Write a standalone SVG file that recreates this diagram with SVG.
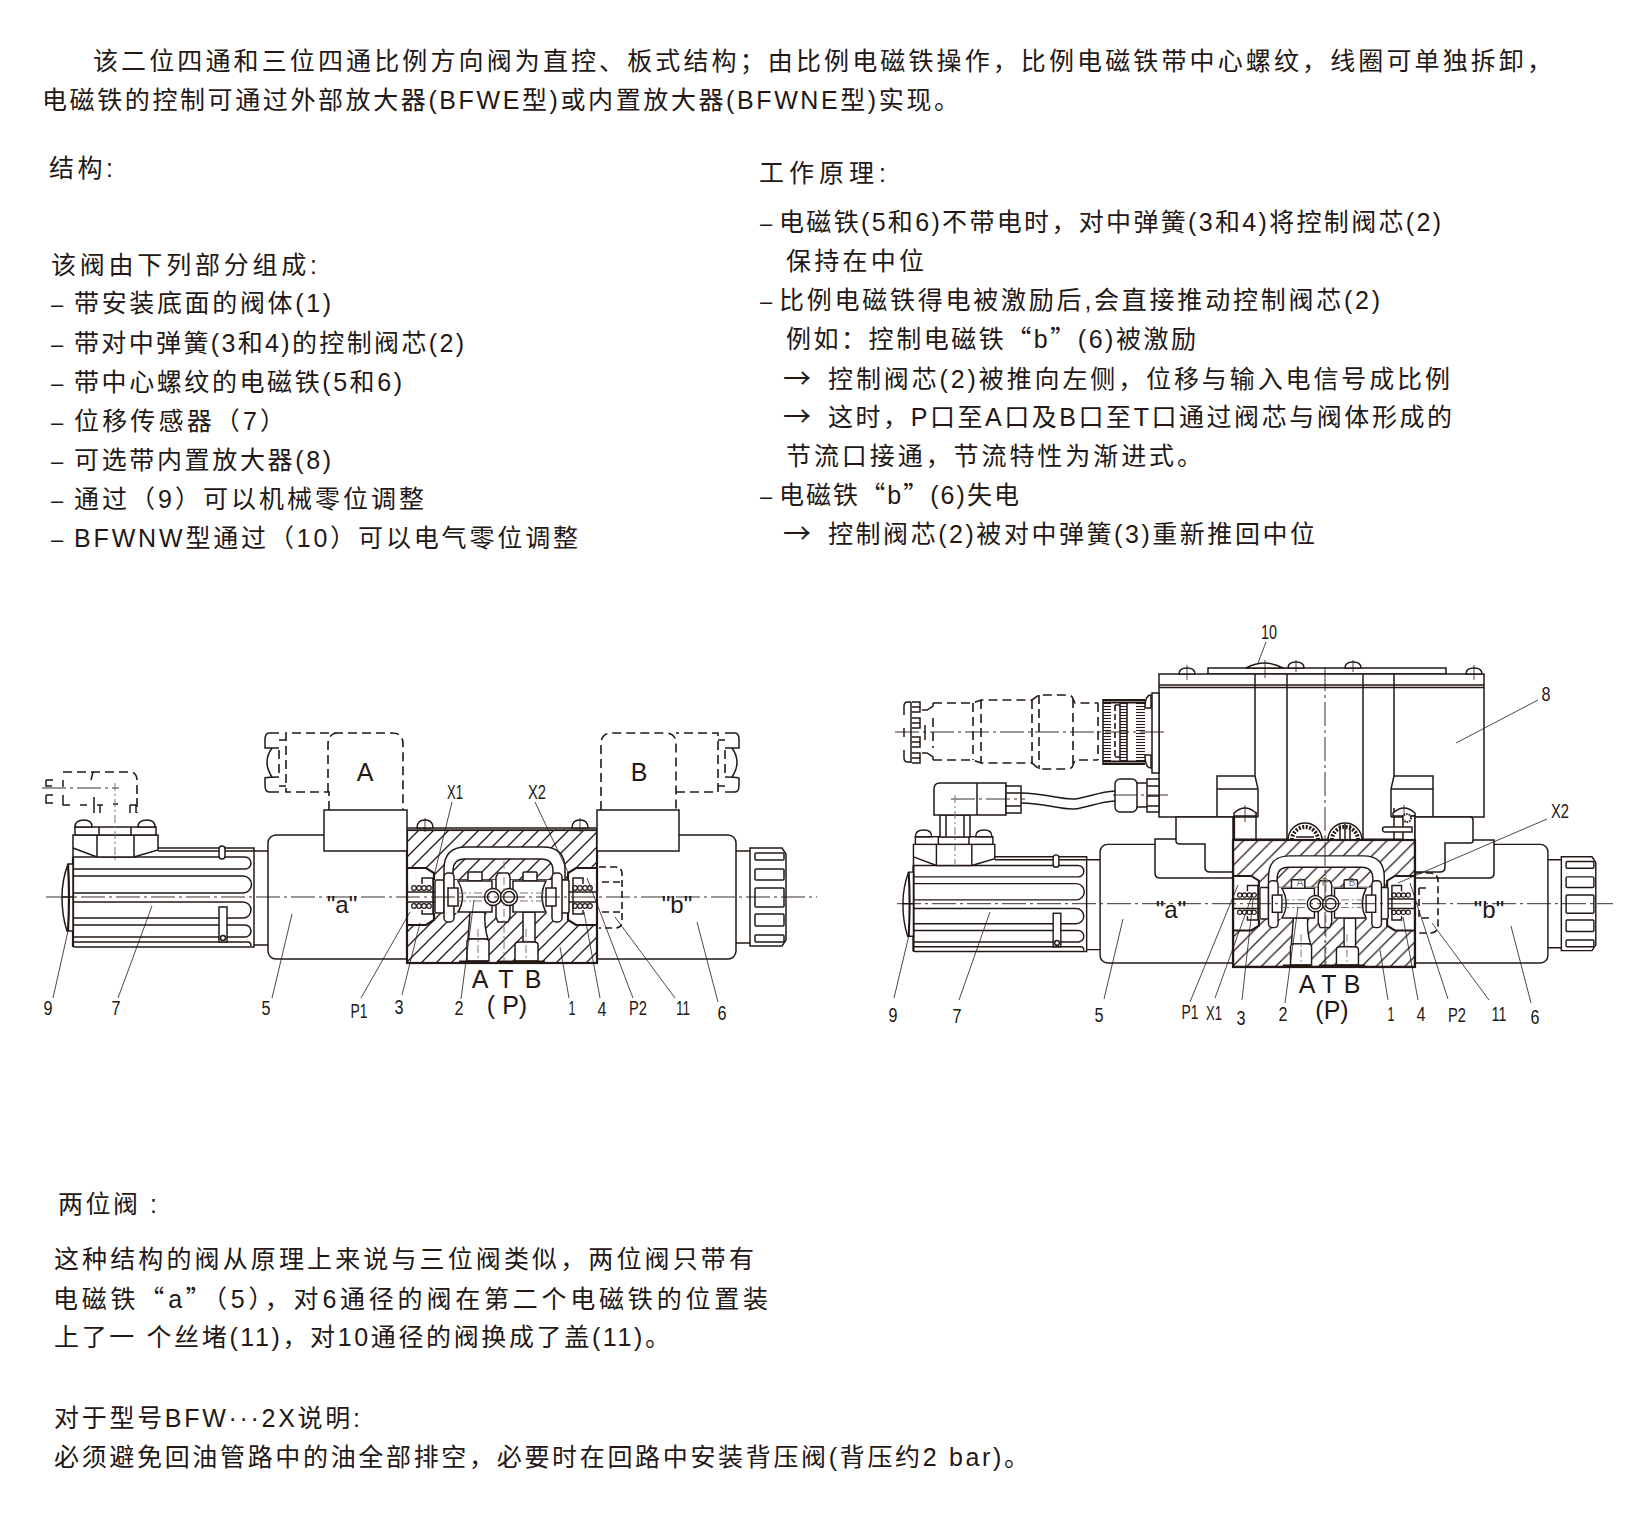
<svg xmlns="http://www.w3.org/2000/svg" xmlns:xlink="http://www.w3.org/1999/xlink" width="1636" height="1517" viewBox="0 0 1636 1517">
<style>
text{font-family:"Liberation Sans","Noto Sans CJK SC",sans-serif;fill:#231815}
.cj{font-family:"Noto Sans CJK SC",sans-serif}
.b{font-size:25px}
.dash{font-size:22px}
.ar{font-size:28px;font-family:"Noto Sans CJK SC",sans-serif}
.n{font-size:20px;text-anchor:middle}
.p{font-size:25px;text-anchor:middle}
.q{font-size:24px;text-anchor:middle}
.l{fill:none;stroke:#231815;stroke-width:1.5}
.k{fill:none;stroke:#231815;stroke-width:2.2}
.w{fill:#fff;stroke:#231815;stroke-width:1.5}
.u{fill:#fff;stroke:none}
.h{fill:url(#hatch);stroke:none}
.s{fill:#231815;stroke:none}
.t{fill:none;stroke:#231815;stroke-width:.8}
.c{fill:none;stroke:#231815;stroke-width:.9;stroke-dasharray:24 4 3 4}
.g{fill:none;stroke:#777;stroke-width:1;stroke-dasharray:8 3 2 3}
.d{fill:none;stroke:#231815;stroke-width:1.6;stroke-dasharray:9 5}
</style>
<defs>
<pattern id="hatch" patternUnits="userSpaceOnUse" width="15" height="15">
<path d="M-3,3 L3,-3 M0,15 L15,0 M12,18 L18,12" fill="none" stroke="#231815" stroke-width="1.3"/>
</pattern>
<pattern id="knurl" patternUnits="userSpaceOnUse" width="4" height="3">
<path d="M0,1.500 H4" fill="none" stroke="#231815" stroke-width="1.1"/>
</pattern>
<path id="cap" class="l" d="M725,733 H735 Q739,733 739,740 V748 Q735,748 725,748 M732,748 Q742,762 732,777 M725,777 Q735,777 739,778 V785 Q739,792 735,792 H725 M718,740 H725 M718,786 H725"/>
<g id="core">
<rect x="-95" y="-67" width="190" height="133" fill="#fff"/>
<rect class="h" x="-95" y="-67" width="190" height="133"/>
<path class="w" d="M-58,-17 V-28 Q-58,-50 -36,-50 H41 Q63,-50 63,-28 V-17 Z"/>
<path d="M-49,-17 V-26 Q-49,-38 -37,-38 H39 Q51,-38 51,-26 V-17 Z" fill="#fff" stroke="#231815" stroke-width="1.5"/>
<path class="h" d="M-49,-17 V-26 Q-49,-38 -37,-38 H39 Q51,-38 51,-26 V-17 Z"/>
<path style="fill:#fff" class="k" d="M-95,-29 H-76 L-68,-24 V23 L-76,28 H-95"/>
<path style="fill:#fff" class="k" d="M95,-29 H74 L66,-24 V23 L74,28 H95"/>
<rect class="u" x="-68" y="-17" width="134" height="33"/>
<path class="l" d="M-95,-5 H-58 M-95,5 H-58 M95,-5 H58 M95,5 H58"/>
<g class="l" style="stroke-width:1.2">
<circle cx="-88" cy="-9" r="2.300"/><circle cx="-83" cy="-9" r="2.300"/><circle cx="-78" cy="-9" r="2.300"/><circle cx="-73" cy="-9" r="2.300"/>
<circle cx="-88" cy="9" r="2.300"/><circle cx="-83" cy="9" r="2.300"/><circle cx="-78" cy="9" r="2.300"/><circle cx="-73" cy="9" r="2.300"/>
<circle cx="73" cy="-9" r="2.300"/><circle cx="78" cy="-9" r="2.300"/><circle cx="83" cy="-9" r="2.300"/><circle cx="88" cy="-9" r="2.300"/>
<circle cx="73" cy="9" r="2.300"/><circle cx="78" cy="9" r="2.300"/><circle cx="83" cy="9" r="2.300"/><circle cx="88" cy="9" r="2.300"/>
</g>
<path class="l" d="M-80,-13 V-19 H-69 V17 H-80 V13 M81,-13 V-19 H71 V17 H81 V13"/>
<rect class="w" x="-67" y="-17" width="9" height="33" rx="1.500"/>
<rect class="w" x="58" y="-17" width="9" height="33" rx="1.500"/>
<rect class="w" x="-58" y="-24" width="10" height="49" rx="4"/>
<rect class="w" x="50" y="-24" width="10" height="49" rx="4"/>
<rect class="w" x="-54" y="-9" width="10" height="18"/>
<rect class="w" x="44" y="-9" width="10" height="18"/>
<rect class="w" x="-34" y="-25" width="14" height="9" rx="1"/>
<rect class="w" x="21" y="-25" width="14" height="9" rx="1"/>
<path class="w" d="M-32,15 L-34,42 H-14 Q-18,30 -17,15 Z"/>
<path class="w" d="M21,15 V45 H33 V15 Z"/>
<path class="w" d="M-35,64 V45 Q-35,42 -31,42 H-17 Q-13,42 -13,45 V64 Z"/>
<path class="w" d="M13,64 V48 Q13,45 17,45 H32 Q36,45 36,48 V64 Z"/>
<path class="w" d="M-44,-16 H-10 V15 H-44 Q-35,0 -44,-16 Z"/>
<path class="w" d="M11,-16 H44 Q36,0 44,15 H11 Z"/>
<path class="w" d="M-6,-20 L-4,-24 H6 L8,-20 V20 L6,25 H-4 L-6,20 Z"/>
<circle class="w" cx="-9" cy="0" r="8.500"/><circle class="l" cx="-9" cy="0" r="5.500"/>
<circle class="w" cx="7" cy="0" r="8.500"/><circle class="l" cx="7" cy="0" r="5.500"/>
<path class="g" d="M-44,-4 H-20 M-44,4 H-20 M18,-4 H44 M18,4 H44 M-24,32 V66 M24,32 V66 M2,-36 V67"/>
<rect class="s" x="-43" y="63.500" width="29" height="2.500"/>
<rect class="s" x="-5" y="63.500" width="18" height="2.500"/>
<rect class="s" x="13" y="63.500" width="30" height="2.500"/>
<rect class="k" x="-95" y="-67" width="190" height="133"/>
</g>
<g id="base">
<g id="transducer">
<path class="l" d="M158,848 H254 V947 H75 Q73,947 73,945 V857"/>
<path class="l" d="M158,851 H254"/>
<path class="l" d="M73,857 H245 a6,6 0 0 1 0,12 H73 M73,876 H243 a8.500,8.500 0 0 1 0,17 H73 M73,902 H243 a8,8 0 0 1 0,16 H73 M73,925 H245 a6,6 0 0 1 0,12 H73 M73,942 H248 Q251,942 251,946"/>
<path d="M73,857 V947" class="k"/>
<rect class="w" x="219" y="846" width="6" height="13" rx="3"/>
<rect class="w" x="219" y="907" width="8" height="35"/>
<circle class="l" cx="223" cy="938" r="2.500"/>
<path class="w" d="M73,864 H68 Q62,880 62,897 Q62,916 67,931 H73 Z"/>
<path class="k" d="M68,864 Q70,897 68,931"/>
<path class="l" d="M62,897 H73"/>
<path class="w" d="M73,857 V835 H158 V850 L134,857 H97 L73,848"/>
<path class="l" d="M97,835 V857 M134,835 V857"/>
<rect class="w" x="75" y="827" width="81" height="8"/>
<path class="l" d="M99,827 V835 M131,827 V835"/>
<path class="w" d="M75,827 Q75,820 84,820 Q92,820 92,827 Z M138,827 Q138,820 147,820 Q155,820 155,827 Z"/>
</g>
<path class="l" d="M254,851 H268 M254,945 H268"/>
<rect class="w" x="268" y="835" width="145" height="124" rx="8"/>
<rect class="w" x="591" y="835" width="145" height="124" rx="8"/>
<path class="l" d="M736,851 H750 M736,943 H750"/>
<path class="w" d="M750,848 H782 L786,854 V940 L782,946 H750 Z"/>
<g class="l">
<rect x="755" y="853" width="29" height="7" rx="1"/>
<rect x="755" y="869" width="29" height="11" rx="1"/>
<rect x="755" y="888" width="29" height="19" rx="1"/>
<rect x="755" y="914" width="29" height="12" rx="1"/>
<rect x="755" y="935" width="29" height="7" rx="1"/>
</g>
<use xlink:href="#core" href="#core" transform="translate(502,897)"/>
</g>
</defs>

<g id="intro">
<text class="b" x="93" y="70" textLength="1459">该二位四通和三位四通比例方向阀为直控、板式结构；由比例电磁铁操作，比例电磁铁带中心螺纹，线圈可单独拆卸，</text>
<text class="b" x="42" y="109" textLength="917">电磁铁的控制可通过外部放大器(BFWE型)或内置放大器(BFWNE型)实现。</text>
</g>
<g id="structure-text">
<text class="b" x="49" y="177" textLength="64">结构:</text>
<text class="b" x="51" y="274" textLength="266">该阀由下列部分组成:</text>
<text class="dash" x="51" y="312">–</text><text class="b" x="74" y="312" textLength="257">带安装底面的阀体(1)</text>
<text class="dash" x="51" y="352">–</text><text class="b" x="74" y="352" textLength="390">带对中弹簧(3和4)的控制阀芯(2)</text>
<text class="dash" x="51" y="391">–</text><text class="b" x="74" y="391" textLength="328">带中心螺纹的电磁铁(5和6)</text>
<text class="dash" x="51" y="430">–</text><text class="b" x="74" y="430" textLength="211">位移传感器（7）</text>
<text class="dash" x="51" y="469">–</text><text class="b" x="74" y="469" textLength="257">可选带内置放大器(8)</text>
<text class="dash" x="51" y="508">–</text><text class="b" x="74" y="508" textLength="350">通过（9）可以机械零位调整</text>
<text class="dash" x="51" y="547">–</text><text class="b" x="74" y="547" textLength="504">BFWNW型通过（10）可以电气零位调整</text>
</g>
<g id="principle-text">
<text class="b" x="759" y="182" textLength="127">工作原理:</text>
<text class="dash" x="760" y="231">–</text><text class="b" x="779" y="231" textLength="662">电磁铁(5和6)不带电时，对中弹簧(3和4)将控制阀芯(2)</text>
<text class="b" x="786" y="270" textLength="138">保持在中位</text>
<text class="dash" x="760" y="309">–</text><text class="b" x="779" y="309" textLength="601">比例电磁铁得电被激励后,会直接推动控制阀芯(2)</text>
<text class="b" x="786" y="348" textLength="410">例如：控制电磁铁<tspan class="cj">“</tspan>b<tspan class="cj">”</tspan>(6)被激励</text>
<text class="ar" x="783" y="389">→</text><text class="b" x="828" y="388" textLength="622">控制阀芯(2)被推向左侧，位移与输入电信号成比例</text>
<text class="ar" x="783" y="427">→</text><text class="b" x="828" y="426" textLength="624">这时，P口至A口及B口至T口通过阀芯与阀体形成的</text>
<text class="b" x="786" y="465" textLength="416">节流口接通，节流特性为渐进式。</text>
<text class="dash" x="760" y="504">–</text><text class="b" x="779" y="504" textLength="240">电磁铁<tspan class="cj">“</tspan>b<tspan class="cj">”</tspan>(6)失电</text>
<text class="ar" x="783" y="544">→</text><text class="b" x="828" y="543" textLength="487">控制阀芯(2)被对中弹簧(3)重新推回中位</text>
</g>
<g id="two-position-text">
<text class="b" x="58" y="1213" textLength="99">两位阀 :</text>
<text class="b" x="54" y="1268" textLength="700">这种结构的阀从原理上来说与三位阀类似，两位阀只带有</text>
<text class="b" x="53" y="1308" textLength="715">电磁铁<tspan class="cj">“</tspan>a<tspan class="cj">”</tspan>（5），对6通径的阀在第二个电磁铁的位置装</text>
<text class="b" x="54" y="1346" textLength="616">上了一 个丝堵(11)，对10通径的阀换成了盖(11)。</text>
<text class="b" x="54" y="1427" textLength="306">对于型号BFW···2X说明:</text>
<text class="b" x="54" y="1466" textLength="975">必须避免回油管路中的油全部排空，必要时在回路中安装背压阀(背压约2 bar)。</text>
</g>

<g id="valve-left">
<use xlink:href="#base" href="#base"/>
<rect class="w" x="407" y="828" width="190" height="2"/>
<path class="w" d="M417,828 Q417,820 425,820 Q433,820 433,828 Z M572,828 Q572,820 580,820 Q588,820 588,828 Z"/>
<path class="t" d="M425,818 V832 M580,818 V832"/>
<rect class="w" x="324" y="810" width="83" height="41"/>
<rect class="w" x="597" y="810" width="82" height="41"/>
<path class="d" d="M329,810 V792 H286 V733 H392 Q403,733 403,744 V810 M328,792 V744 Q328,733 339,733"/>
<path class="d" d="M279,750 V775"/>
<use xlink:href="#cap" href="#cap" transform="matrix(-1 0 0 1 1004 0)"/>
<path class="d" d="M601,810 V744 Q601,733 612,733 H665 Q676,733 676,744 V810 M676,792 H718 V733 H676"/>
<use xlink:href="#cap" href="#cap"/>
<path class="d" d="M725,750 V775"/>
<path class="d" d="M63,772 H130 Q137,772 137,781 V795 M137,798 V813"/>
<path class="l" d="M93,772 L91,780 M63,780 V787 M63,795 V805 H70 M80,805 H87 M94,797 V813 M97,805 H103 M100,805 V813 M113,804 H118 M130,805 H136 M130,805 V813 M136,805 V813"/>
<path class="l" d="M46,780 H53 M46,780 V786 H52 M46,795 H53 M46,795 V803 H53"/>
<path class="c" d="M42,788 H119"/>
<path class="g" d="M115,783 V860"/>
<path class="c" d="M46,897 H817"/>
<path class="d" d="M599,867 H615 Q622,867 622,874 V921 Q622,928 615,928 H599 M602,882 H621 M602,912 H621" style="stroke-dasharray:7 4"/>
<text class="q" x="342" y="913">"a"</text>
<text class="q" x="677" y="913">"b"</text>
<text class="p" x="365" y="781">A</text>
<text class="p" x="639" y="781">B</text>
<text class="p" x="480" y="988">A</text>
<text class="p" x="506" y="988">T</text>
<text class="p" x="533" y="988">B</text>
<text class="p" x="507" y="1014">( P)</text>
</g>

<g id="valve-right">
<use xlink:href="#base" href="#base" transform="translate(1324,903.700) scale(.957) translate(-502,-897)"/>
<rect class="w" x="1208" y="668" width="238" height="6"/>
<path class="w" d="M1246,668 Q1265,658 1283,668 Z"/>
<rect class="u" x="1159" y="674" width="325" height="143"/>
<path class="l" d="M1258,817 H1159 V674 H1484 V817 H1391"/>
<path class="l" d="M1159,685 H1484 M1159,687.500 H1484"/>
<path class="l" d="M1255,674 V776 L1258,789 V817 M1287,674 V840 M1363,674 V840 M1394,674 V776 L1391,789 V817"/>
<path class="l" d="M1217,817 V776 H1255 M1217,789 H1258 M1394,776 H1433 V817 M1391,789 H1433"/>
<path class="w" d="M1179,674 Q1179,668 1187,668 Q1195,668 1195,674 Z M1288,668 Q1288,662 1296,662 Q1304,662 1304,668 Z M1345,668 Q1345,662 1353,662 Q1361,662 1361,668 Z M1466,674 Q1466,668 1474,668 Q1482,668 1482,674 Z"/>
<path class="t" d="M1187,665 V680 M1265,660 V678 M1296,660 V672 M1353,660 V672 M1474,665 V680"/>
<g id="rollers">
<path class="w" d="M1288,840 A17,17 0 0 1 1322,840 Z"/>
<path class="w" d="M1328,840 A17,17 0 0 1 1362,840 Z"/>
<path d="M1292,840 A13,13 0 0 1 1318,840 M1332,840 A13,13 0 0 1 1358,840" fill="none" stroke="#231815" stroke-width="4" stroke-dasharray="2 1.500"/>
<path class="l" d="M1296,837 H1314 M1340,825 V840 M1345,824 V840 M1350,825 V840"/>
</g>
<path class="k" d="M1234,816 V840"/>
<path class="l" d="M1256,812 V840 M1394,808 V840"/>
<path class="w" d="M1234,816 V813 Q1245,803 1256,813 V816 Z M1393,816 V813 Q1404,803 1415,813 V816 Z"/>
<path class="t" d="M1245,805 V822 M1404,805 V822"/>
<rect class="w" x="1403" y="816" width="12" height="24"/>
<circle cx="1407" cy="818" r="4" fill="#fff" stroke="#231815" stroke-width="2" stroke-dasharray="1.500 1"/>
<path class="w" d="M1385,827 H1412 V832 H1385 A2.500,2.500 0 0 1 1385,827 Z"/>
<path class="w" d="M1233,817 H1176 V839 H1155 V873 Q1155,878 1160,878 H1233 Z"/>
<path class="l" d="M1176,839 V841 Q1176,844 1180,844 H1205 V867 Q1205,872 1210,872 H1233"/>
<path class="w" d="M1415,817 H1470 Q1473,817 1473,820 V840 H1494 V873 Q1494,878 1489,878 H1415 Z"/>
<path class="l" d="M1473,840 V841 Q1473,843 1470,843 H1445 V867 Q1445,872 1440,872 H1415"/>
<rect class="k" x="1233" y="840" width="182" height="127"/>
<path class="d" d="M1415,873 H1430 Q1438,873 1438,881 V925 Q1438,933 1430,933 H1415" style="stroke-dasharray:7 4"/>
<path class="d" d="M1419,888 V918 H1429 M1419,888 H1429" style="stroke-dasharray:7 4"/>
<g id="plug-dashed">
<path class="d" d="M933,703 H973 L981,700 H1032 L1039,695 H1068 Q1072,695 1073,699 L1075,703 H1098 M933,760 H973 L981,763 H1032 L1039,769 H1068 Q1072,769 1073,765 L1075,760 H1098"/>
<path class="d" d="M933,718 V748 M973,703 V760 M981,700 V763 M1032,700 V764 M1039,695 V769 M1073,699 V765 M1098,703 V760"/>
<path class="l" d="M922,710 H927 L933,706 V703 M922,753 H927 L933,757 V760"/>
<path class="l" d="M911,702 H908 Q904,702 904,706 V715 M904,728 V737 M904,750 V758 Q904,762 908,762 H911"/>
<path class="l" d="M911,702 V763 M912,702 H920 V712 H912 M912,707 H920 M912,718 H920 V728 H912 M912,723 H920 M912,737 H920 V747 H912 M912,742 H920 M912,753 H920 V763 H912 M912,758 H920 M925,725 V740"/>
</g>
<g id="knurled-nut">
<rect x="1103" y="703" width="8" height="58" fill="url(#knurl)"/>
<rect x="1120" y="703" width="7" height="58" fill="url(#knurl)"/>
<rect x="1136" y="703" width="9" height="58" fill="url(#knurl)"/>
<path class="l" d="M1120,703 V761 M1127,703 V761 M1103,699 V765"/>
<path class="k" d="M1103,700 H1145 M1103,702.500 H1145 M1103,761.500 H1145 M1103,764 H1145"/>
<path class="d" d="M1115,705 V757 M1115,705 H1120 M1115,757 H1120" style="stroke-dasharray:6 3"/>
<path class="w" d="M1145,708 Q1145,695 1151,695 V708 Z M1145,755 Q1145,768 1151,768 V755 Z"/>
<rect class="w" x="1152" y="693" width="7" height="80"/>
</g>
<path class="c" d="M895,732 H1165"/>
<rect class="w" x="940" y="815" width="30" height="22"/>
<path class="l" d="M946,815 V837 M964,815 V837"/>
<path class="w" d="M934,815 V789 Q934,783 940,783 H1006 V815 Z"/>
<path class="l" d="M977,783 V815"/>
<rect class="w" x="1006" y="786" width="15" height="27"/>
<path class="l" d="M1006,793 H1021 M1006,806 H1021"/>
<path class="l" d="M1021,793 C1045,793 1060,800 1075,799 C1090,797 1098,792 1115,791"/>
<path class="l" d="M1021,803 C1045,803 1060,810 1075,809 C1090,807 1098,802 1115,801"/>
<rect class="w" x="1115" y="779" width="22" height="33" rx="5"/>
<path class="l" d="M1137,783 H1147 M1137,807 H1147"/>
<rect class="w" x="1147" y="779" width="12" height="33"/>
<path class="l" d="M1147,786 H1159 M1147,796 H1159 M1147,806 H1159"/>
<path class="c" d="M951,799 H1025 M1113,795 H1168"/>
<path class="g" d="M955,795 V868"/>
<path class="c" d="M897,903.700 H1613"/>
<path class="c" d="M1325,667 V967"/>
<text x="1300" y="886" font-size="10" text-anchor="middle" style="fill:#777">A</text>
<text x="1325" y="886" font-size="10" text-anchor="middle" style="fill:#777">P</text>
<text x="1352" y="886" font-size="10" text-anchor="middle" style="fill:#777">B</text>
<text class="q" x="1171" y="918">"a"</text>
<text class="q" x="1489" y="918">"b"</text>
<text class="p" x="1307" y="993">A</text>
<text class="p" x="1329" y="993">T</text>
<text class="p" x="1352" y="993">B</text>
<text class="p" x="1332" y="1019">(P)</text>
</g>

<g id="connectors">
<path class="t" d="M68,931 L53,998 M152,906 L118,998 M292,914 L272,998 M410,912 L361,998 M420,923 L402,995 M474,900 L461,999 M560,947 L569,998 M584,912 L600,998 M587,878 L633,998 M615,917 L675,998 M697,922 L718,1002 M452,802 L433,880 M535,802 L568,872"/>
<path class="t" d="M909,935 L894,998 M990,912 L959,1000 M1123,919 L1104,999 M1238,885 L1190,1002 M1253,893 L1215,998 M1253,900 L1242,1000 M1298,907 L1285,1003 M1380,950 L1388,1000 M1403,917 L1418,1000 M1410,883 L1448,999 M1432,923 L1489,1000 M1511,926 L1531,1003 M1456,743 L1538,700 M1398,883 L1547,819 M1258,663 L1266,642"/>
</g>
<g id="leader-labels">
<text class="n" x="48" y="1015" textLength="9" lengthAdjust="spacingAndGlyphs">9</text>
<text class="n" x="116" y="1015" textLength="9" lengthAdjust="spacingAndGlyphs">7</text>
<text class="n" x="266" y="1015" textLength="9" lengthAdjust="spacingAndGlyphs">5</text>
<text class="n" x="359" y="1018" textLength="17" lengthAdjust="spacingAndGlyphs">P1</text>
<text class="n" x="399" y="1014" textLength="9" lengthAdjust="spacingAndGlyphs">3</text>
<text class="n" x="459" y="1015" textLength="9" lengthAdjust="spacingAndGlyphs">2</text>
<text class="n" x="572" y="1015" textLength="7" lengthAdjust="spacingAndGlyphs">1</text>
<text class="n" x="602" y="1016" textLength="9" lengthAdjust="spacingAndGlyphs">4</text>
<text class="n" x="638" y="1015" textLength="18" lengthAdjust="spacingAndGlyphs">P2</text>
<text class="n" x="683" y="1015" textLength="14" lengthAdjust="spacingAndGlyphs">11</text>
<text class="n" x="722" y="1020" textLength="9" lengthAdjust="spacingAndGlyphs">6</text>
<text class="n" x="455" y="799" textLength="16" lengthAdjust="spacingAndGlyphs">X1</text>
<text class="n" x="537" y="799" textLength="18" lengthAdjust="spacingAndGlyphs">X2</text>
<text class="n" x="893" y="1022" textLength="9" lengthAdjust="spacingAndGlyphs">9</text>
<text class="n" x="957" y="1023" textLength="9" lengthAdjust="spacingAndGlyphs">7</text>
<text class="n" x="1099" y="1022" textLength="9" lengthAdjust="spacingAndGlyphs">5</text>
<text class="n" x="1190" y="1019" textLength="17" lengthAdjust="spacingAndGlyphs">P1</text>
<text class="n" x="1214" y="1020" textLength="16" lengthAdjust="spacingAndGlyphs">X1</text>
<text class="n" x="1241" y="1025" textLength="9" lengthAdjust="spacingAndGlyphs">3</text>
<text class="n" x="1283" y="1021" textLength="9" lengthAdjust="spacingAndGlyphs">2</text>
<text class="n" x="1391" y="1021" textLength="7" lengthAdjust="spacingAndGlyphs">1</text>
<text class="n" x="1421" y="1021" textLength="9" lengthAdjust="spacingAndGlyphs">4</text>
<text class="n" x="1457" y="1022" textLength="18" lengthAdjust="spacingAndGlyphs">P2</text>
<text class="n" x="1499" y="1021" textLength="15" lengthAdjust="spacingAndGlyphs">11</text>
<text class="n" x="1535" y="1024" textLength="9" lengthAdjust="spacingAndGlyphs">6</text>
<text class="n" x="1546" y="701" textLength="9" lengthAdjust="spacingAndGlyphs">8</text>
<text class="n" x="1560" y="818" textLength="18" lengthAdjust="spacingAndGlyphs">X2</text>
<text class="n" x="1269" y="639" textLength="16" lengthAdjust="spacingAndGlyphs">10</text>
</g>
</svg>
